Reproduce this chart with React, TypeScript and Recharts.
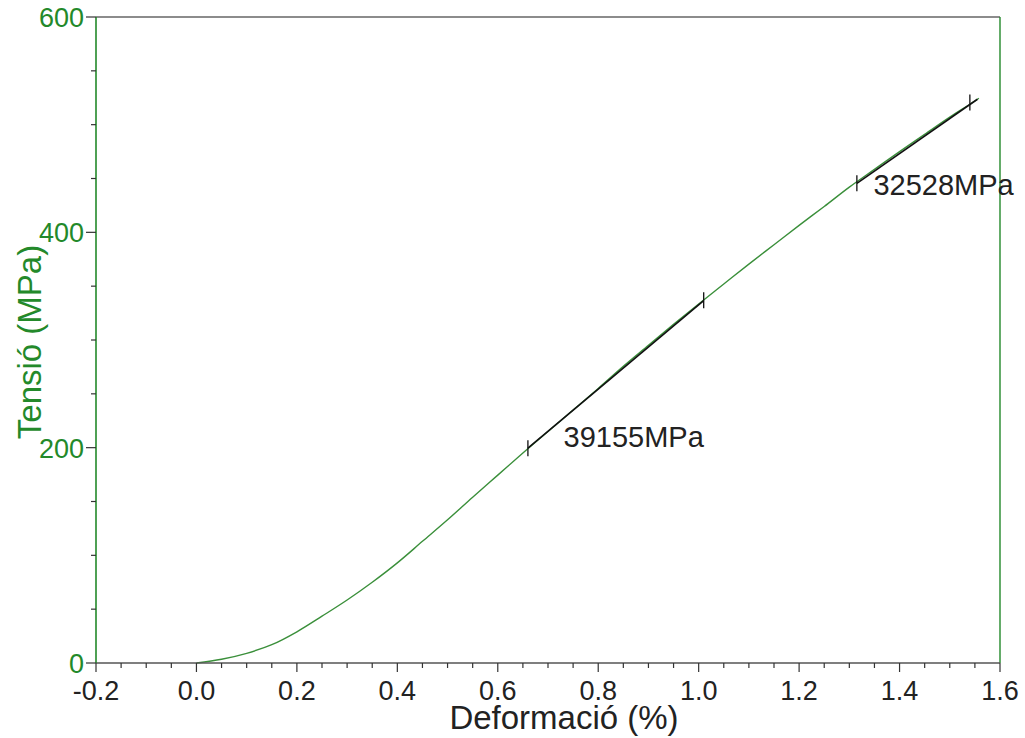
import React from "react";
import {
    ComposedChart, Line, Scatter, XAxis, YAxis, ReferenceLine,
} from "recharts";

// strain (%) vs stress (MPa)
const strain = [
    0, 0.05, 0.1, 0.15, 0.2, 0.25, 0.3, 0.35, 0.4, 0.45, 0.5, 0.55, 0.6, 0.65, 0.7, 0.75,
    0.8, 0.85, 0.9, 0.95, 1.0, 1.05, 1.1, 1.15, 1.2, 1.25, 1.3, 1.35, 1.4, 1.45, 1.5, 1.55, 1.558,
];
const stress = [
    0, 3.5, 9, 17, 29, 43.5, 58.5, 75, 93, 113, 133, 154, 174.5, 195, 215, 235,
    255, 275.5, 295, 314.5, 333.5, 352, 370.5, 388.5, 406.5, 424, 442, 458.5, 475, 491, 507, 522, 524.5,
];

// modulus fit segments
const fit1Strain = [0.66, 1.01];
const fit1Stress = [199.5, 336.5];
const fit2Strain = [1.315, 1.555];
const fit2Stress = [445.5, 523.6];

// fit range markers
const markStrain = [0.66, 1.01, 1.315, 1.54];
const markStress = [199.5, 337, 445.5, 520.5];

// modulus annotations
const labelText = ["39155MPa", "32528MPa"];
const labelStrain = [0.731, 1.348];
const labelStress = [210, 444];

const xTickLabels = ["-0.2", "0.0", "0.2", "0.4", "0.6", "0.8", "1.0", "1.2", "1.4", "1.6"];
const yTickLabels = ["0", "200", "400", "600"];

const GREEN = "#23892a";
const CURVE = "#3a8f3a";
const FONT = "Arial, 'Liberation Sans', sans-serif";
const FS = 27;
const TITLE_FS = 33;
const NOTE_FS = 29;

const curve = strain.map((x, i) => ({ x, y: stress[i] }));
const fit1 = fit1Strain.map((x, i) => ({ x, y: fit1Stress[i] }));
const fit2 = fit2Strain.map((x, i) => ({ x, y: fit2Stress[i] }));
const marks = markStrain.map((x, i) => ({ x, y: markStress[i] }));
const labels = labelStrain.map((x, i) => ({ x, y: labelStress[i], text: labelText[i] }));

const xTicks: number[] = [];
for (let i = 0; i <= 36; i++) xTicks.push(Math.round((-0.2 + i * 0.05) * 1000) / 1000);
const yTicks: number[] = [];
for (let i = 0; i <= 12; i++) yTicks.push(i * 50);

const isMajorX = (v: number) => Math.abs(v * 5 - Math.round(v * 5)) < 1e-6;

function XTick({ x, y, payload }: any) {
    const v = payload.value as number;
    const major = isMajorX(v);
    const label = xTickLabels.find((s) => Math.abs(parseFloat(s) - v) < 1e-6);
    return (
        <g>
            <line x1={x} x2={x} y1={y} y2={y + (major ? 9 : 5)} stroke="#333" strokeWidth={1.2} />
            {major && label && (
                <text x={x} y={y + 37} textAnchor="middle" fill="#222" fontSize={FS} fontFamily={FONT}>
                    {label}
                </text>
            )}
        </g>
    );
}

function YTick({ x, y, payload }: any) {
    const v = payload.value as number;
    const major = v % 200 === 0;
    const label = yTickLabels.find((s) => Number(s) === v);
    return (
        <g>
            <line x1={x - (major ? 10 : 5)} x2={x} y1={y} y2={y} stroke="#333" strokeWidth={1.2} />
            {major && label && (
                <text x={x - 12} y={y + 10} textAnchor="end" fill={GREEN} fontSize={FS} fontFamily={FONT}>
                    {label}
                </text>
            )}
        </g>
    );
}

function Marker({ cx, cy }: any) {
    return <line x1={cx} x2={cx} y1={cy - 8} y2={cy + 8} stroke="#111" strokeWidth={1.3} />;
}

function Annotation({ cx, cy, payload }: any) {
    return (
        <text x={cx} y={cy + 10} textAnchor="start" fill="#222" fontSize={NOTE_FS} fontFamily={FONT}>
            {payload.text}
        </text>
    );
}

export default function App() {
    return (
        <div style={{ position: "absolute", left: 0, top: 0, width: 1025, height: 738, background: "#fff" }}>
            <ComposedChart
                width={1025}
                height={738}
                margin={{ top: 17, right: 25, bottom: 15, left: 6 }}
            >
                <XAxis
                    type="number"
                    dataKey="x"
                    domain={[-0.2, 1.6]}
                    ticks={xTicks}
                    interval={0}
                    height={60}
                    tickSize={0}
                    tickMargin={0}
                    tick={<XTick />}
                    axisLine={{ stroke: "#555", strokeWidth: 1.6 }}
                    tickLine={false}
                    label={{
                        content: ({ viewBox }: any) => (
                            <text
                                x={viewBox.x + viewBox.width / 2 + 16}
                                y={viewBox.y + 66}
                                textAnchor="middle"
                                fill="#222"
                                fontSize={TITLE_FS}
                                fontFamily={FONT}
                            >
                                Deformació (%)
                            </text>
                        ),
                    }}
                />
                <YAxis
                    type="number"
                    dataKey="y"
                    domain={[0, 600]}
                    ticks={yTicks}
                    interval={0}
                    width={90}
                    tickSize={0}
                    tickMargin={0}
                    tick={<YTick />}
                    axisLine={{ stroke: GREEN, strokeWidth: 1.6 }}
                    tickLine={false}
                    label={{
                        content: ({ viewBox }: any) => {
                            const cx = viewBox.x + 23;
                            const cy = viewBox.y + viewBox.height / 2 + 2;
                            return (
                                <text
                                    x={cx}
                                    y={cy}
                                    transform={`rotate(-90, ${cx}, ${cy})`}
                                    textAnchor="middle"
                                    dominantBaseline="central"
                                    fill={GREEN}
                                    fontSize={TITLE_FS}
                                    fontFamily={FONT}
                                >
                                    Tensió (MPa)
                                </text>
                            );
                        },
                    }}
                />
                <ReferenceLine y={600} stroke="#666" strokeWidth={1.6} />
                <ReferenceLine x={1.6} stroke={GREEN} strokeWidth={1.4} />
                <Line
                    data={curve}
                    dataKey="y"
                    type="monotone"
                    stroke={CURVE}
                    strokeWidth={1.4}
                    dot={false}
                    isAnimationActive={false}
                />
                <Line data={fit1} dataKey="y" type="linear" stroke="#111" strokeWidth={1.6} dot={false} isAnimationActive={false} />
                <Line data={fit2} dataKey="y" type="linear" stroke="#111" strokeWidth={1.6} dot={false} isAnimationActive={false} />
                <Scatter data={marks} dataKey="y" shape={<Marker />} isAnimationActive={false} />
                <Scatter data={labels} dataKey="y" shape={<Annotation />} isAnimationActive={false} />
            </ComposedChart>
        </div>
    );
}
